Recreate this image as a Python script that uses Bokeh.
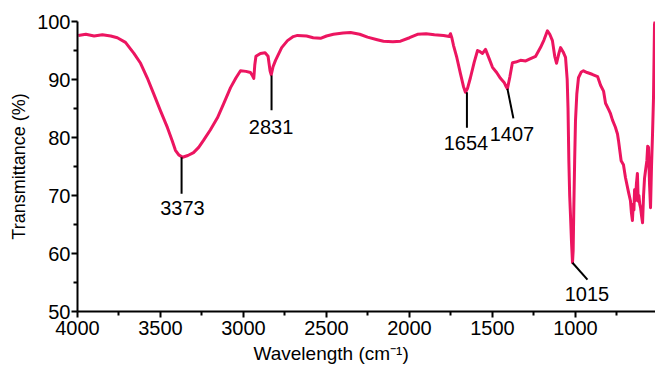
from bokeh.plotting import figure
from bokeh.models import Range1d, FixedTicker, ColumnDataSource, Title
from bokeh.embed import file_html
from bokeh.resources import INLINE
from bokeh.core.properties import value

# ---- spectrum (wavenumber cm^-1, transmittance %) ----
wavenumber = [3995, 3950, 3900, 3850, 3800, 3760, 3711, 3660, 3620, 3580, 3542, 3500,
              3458, 3430, 3410, 3390, 3367, 3335, 3301, 3270, 3241, 3200, 3157, 3120,
              3078, 3045, 3018, 2985, 2958, 2945, 2938, 2932, 2925, 2898, 2870, 2852,
              2840, 2833, 2822, 2807, 2770, 2735, 2700, 2675, 2620, 2580, 2536, 2500,
              2458, 2400, 2355, 2300, 2253, 2200, 2157, 2100, 2054, 2000, 1952, 1900,
              1850, 1795, 1760, 1753, 1745, 1735, 1715, 1693, 1675, 1663, 1650, 1633,
              1610, 1590, 1575, 1560, 1542, 1520, 1500, 1475, 1452, 1430, 1420, 1410,
              1395, 1380, 1360, 1331, 1300, 1271, 1240, 1211, 1190, 1169, 1155, 1139,
              1125, 1114, 1100, 1090, 1075, 1060, 1050, 1045, 1040, 1035, 1030, 1024,
              1018, 1014, 1010, 1005, 1000, 992, 982, 965, 952, 930, 900, 867, 849, 831,
              819, 800, 789, 777, 760, 747, 741, 725, 711, 699, 680, 669, 663, 657, 652,
              648, 644, 639, 633, 627, 622, 618, 613, 608, 602, 596, 590, 584, 578, 570,
              565, 560, 554, 548, 542, 536, 530, 524, 518]
transmittance = [97.6, 97.8, 97.5, 97.7, 97.5, 97.2, 96.4, 94.5, 92.8, 90.3, 87.6, 84.6,
                 81.7, 79.5, 77.8, 77.0, 76.6, 76.9, 77.4, 78.3, 79.5, 81.3, 83.4, 85.8,
                 88.6, 90.3, 91.5, 91.4, 91.2, 90.6, 90.2, 92.5, 94.0, 94.5, 94.6, 94.0,
                 91.5, 90.8, 92.2, 93.3, 95.5, 96.7, 97.4, 97.6, 97.5, 97.2, 97.1, 97.5,
                 97.8, 98.0, 98.1, 97.8, 97.3, 96.9, 96.6, 96.5, 96.6, 97.2, 97.8, 97.9,
                 97.7, 97.6, 97.4, 97.9, 97.2, 95.9, 93.8, 91.0, 88.8, 87.8, 88.5, 90.3,
                 93.0, 95.0, 94.8, 94.5, 95.2, 93.6, 92.1, 91.2, 90.2, 89.5, 88.9, 88.4,
                 90.5, 92.9, 93.0, 93.3, 93.2, 93.6, 94.0, 95.5, 96.8, 98.4, 97.8, 96.7,
                 94.0, 92.8, 94.5, 95.5, 94.8, 93.8, 90.0, 85.0, 76.0, 70.0, 66.5, 62.0,
                 58.4, 60.5, 68.0, 76.0, 82.9, 87.5, 90.3, 91.3, 91.5, 91.2, 90.9, 90.5,
                 89.0, 88.0, 85.9, 84.8, 84.1, 83.0, 81.8, 80.6, 79.5, 76.0, 75.3, 73.1,
                 70.5, 69.1, 67.0, 65.7, 68.5, 67.5, 71.0, 69.1, 72.0, 73.8, 69.0, 70.0,
                 68.5, 67.9, 66.5, 65.3, 70.0, 73.0, 74.3, 76.0, 78.5, 78.3, 72.0, 67.9,
                 75.0, 80.5, 86.9, 99.5, 100.5]

# ---- peak annotations ----
peak_labels = ["3373", "2831", "1654", "1407", "1015"]
peak_x0 = [3373, 2831, 1654, 1410, 1018]
peak_y0 = [76.6, 90.7, 87.8, 88.4, 58.4]
peak_x1 = [3373, 2831, 1654, 1374, 928]
peak_y1 = [70.3, 84.7, 81.7, 83.3, 55.5]
label_x = [3368, 2834, 1660, 1383, 931]
label_y = [67.9, 81.8, 79.0, 80.6, 53.1]

x_ticks = [4000, 3500, 3000, 2500, 2000, 1500, 1000]
x_minor = [3750, 3250, 2750, 2250, 1750, 1250, 750]
y_ticks = [50, 60, 70, 80, 90, 100]
y_minor = [55, 65, 75, 85, 95]

x_title = "Wavelength (cm\u207b\u00b9)"
y_title = "Transmittance (%)"

FONT = "Liberation Sans"
LINE_COLOR = "#EC1560"

p = figure(width=655, height=369, output_backend="svg", toolbar_location=None,
           x_range=Range1d(4000, 518), y_range=Range1d(50, 100),
           min_border_left=77, min_border_right=0, min_border_top=21,
           min_border_bottom=58)
p.outline_line_color = None
p.xgrid.visible = False
p.ygrid.visible = False
p.background_fill_color = "white"
p.border_fill_color = "white"

p.line(wavenumber, transmittance, line_color=LINE_COLOR, line_width=3,
       line_join="round")

seg = ColumnDataSource(dict(x0=peak_x0, y0=peak_y0, x1=peak_x1, y1=peak_y1))
p.segment("x0", "y0", "x1", "y1", source=seg, line_color="black", line_width=2)

txt = ColumnDataSource(dict(x=label_x, y=label_y, t=peak_labels))
p.text("x", "y", text="t", source=txt, text_font=value(FONT),
       text_font_size="20px", text_align="center", text_baseline="middle",
       text_color="black")

for ax in (p.xaxis[0], p.yaxis[0]):
    ax.axis_line_width = 2
    ax.axis_line_color = "black"
    ax.major_tick_line_width = 2
    ax.minor_tick_line_width = 2
    ax.major_tick_line_color = "black"
    ax.minor_tick_line_color = "black"
    ax.major_tick_out = 6
    ax.major_tick_in = 0
    ax.minor_tick_out = 4
    ax.minor_tick_in = 0
    ax.major_label_text_font = FONT
    ax.major_label_text_font_size = "20px"
    ax.major_label_text_color = "black"

p.xaxis.ticker = FixedTicker(ticks=x_ticks, minor_ticks=x_minor)
p.yaxis.ticker = FixedTicker(ticks=y_ticks, minor_ticks=y_minor)
p.xaxis.major_label_standoff = 3
p.yaxis.major_label_standoff = 1

p.yaxis.axis_label = y_title
p.yaxis.axis_label_text_font = FONT
p.yaxis.axis_label_text_font_size = "18px"
p.yaxis.axis_label_text_font_style = "normal"
p.yaxis.axis_label_text_color = "black"
p.yaxis.axis_label_standoff = 5

p.add_layout(Title(text=x_title, align="left", offset=176,
                   text_font=FONT, text_font_size="19px", text_font_style="normal",
                   text_color="black", standoff=7), "below")

open("out.html", "w").write(file_html(p, INLINE))
